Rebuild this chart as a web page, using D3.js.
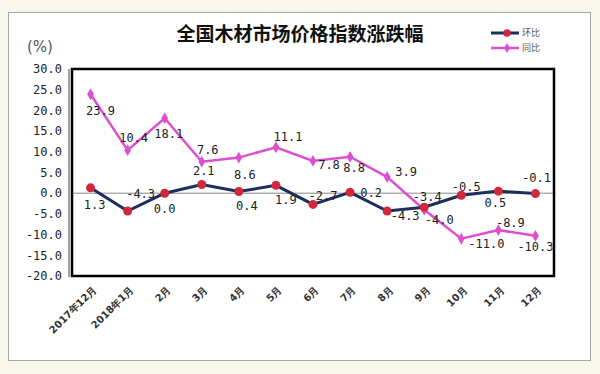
<!DOCTYPE html>
<html>
<head>
<meta charset="utf-8">
<script src="https://cdn.jsdelivr.net/npm/d3@7"></script>
<style>
  html, body { margin: 0; padding: 0; background: #f7f7ec; }
  svg { display: block; }
</style>
</head>
<body>
<div id="chart"></div>
<script>
// data
const months = ["2017年12月", "2018年1月", "2月", "3月", "4月", "5月", "6月", "7月", "8月", "9月", "10月", "11月", "12月"];
const huanbi = [1.3, -4.3, 0.0, 2.1, 0.4, 1.9, -2.7, 0.2, -4.3, -3.4, -0.5, 0.5, -0.1];   // 环比
const tongbi = [23.9, 10.4, 18.1, 7.6, 8.6, 11.1, 7.8, 8.8, 3.9, -4.0, -11.0, -8.9, -10.3]; // 同比
const yTicks = [30, 25, 20, 15, 10, 5, 0, -5, -10, -15, -20];

// label nudges (dx, dy from the point), set by hand like in the original
const huanbiLab = [[4,17],[13,-17],[0,16],[2,-14],[8,14],[10,14],[10,-9],[21,0],[18,5],[3,-10],[5,-8],[-3,12],[1,-16]];
const tongbiLab = [[10,17],[6,-12],[4,16],[6,-12],[6,17],[12,-10],[16,4],[4,11],[19,-5],[15,10],[25,5],[12,-7],[0,11]];

const W = 600, H = 374;
const plot = {left: 72, right: 554, top: 69, bottom: 276};

const svg = d3.select("#chart").append("svg")
    .attr("width", W)
    .attr("height", H);

// white panel
svg.append("rect")
    .attr("x", 8.5).attr("y", 12.5)
    .attr("width", 582).attr("height", 348)
    .attr("fill", "#fff")
    .attr("stroke", "#a8a8a8");

const x = d3.scalePoint()
    .domain(months)
    .range([plot.left, plot.right])
    .padding(0.5);

const y = d3.scaleLinear()
    .domain([-20, 30])
    .range([plot.bottom, plot.top]);

// title
svg.append("text")
    .attr("x", 300).attr("y", 41)
    .attr("text-anchor", "middle")
    .style("font-family", "'Noto Sans CJK SC', sans-serif")
    .style("font-size", "19px")
    .style("font-weight", "bold")
    .attr("fill", "#111")
    .text("全国木材市场价格指数涨跌幅");

svg.append("text")
    .attr("x", 27).attr("y", 52)
    .style("font-family", "'DejaVu Sans', sans-serif")
    .style("font-size", "15px")
    .attr("fill", "#555")
    .text("(%)");

// y axis labels
svg.append("g")
    .selectAll("text")
    .data(yTicks)
    .enter().append("text")
        .attr("x", 62)
        .attr("y", d => y(d))
        .attr("dy", "0.35em")
        .attr("text-anchor", "end")
        .style("font-family", "'DejaVu Sans Mono', monospace")
        .style("font-size", "12px")
        .attr("fill", "#222")
        .text(d => d.toFixed(1));

// zero line
svg.append("line")
    .attr("x1", plot.left).attr("x2", plot.right)
    .attr("y1", y(0)).attr("y2", y(0))
    .attr("stroke", "#888")
    .attr("stroke-width", 1);

// plot frame
svg.append("rect")
    .attr("x", plot.left).attr("y", plot.top)
    .attr("width", plot.right - plot.left)
    .attr("height", plot.bottom - plot.top)
    .attr("fill", "none")
    .attr("stroke", "#000")
    .attr("stroke-width", 2.5);
svg.append("line")
    .attr("x1", plot.left - 3).attr("x2", plot.left - 3)
    .attr("y1", plot.top).attr("y2", plot.bottom + 1)
    .attr("stroke", "#444")
    .attr("stroke-width", 1);

// x labels
svg.append("g")
    .selectAll("text")
    .data(months)
    .enter().append("text")
        .attr("transform", d => `translate(${x(d) + 4},${plot.bottom + 12}) rotate(-45)`)
        .attr("text-anchor", "end")
        .attr("dy", "0.35em")
        .style("font-family", "'DejaVu Sans', sans-serif")
        .style("font-size", "10px")
        .style("font-weight", "bold")
        .attr("fill", "#333")
        .text(d => d);

const line = d3.line()
    .x((d, i) => x(months[i]))
    .y(d => y(d));

// 同比 series
svg.append("path")
    .datum(tongbi)
    .attr("d", line)
    .attr("fill", "none")
    .attr("stroke", "#dc4fcf")
    .attr("stroke-width", 2.5);
svg.append("g")
    .selectAll("path")
    .data(tongbi)
    .enter().append("path")
        .attr("d", d3.symbol(d3.symbolDiamond, 40))
        .attr("transform", (d, i) => `translate(${x(months[i])},${y(d)})`)
        .attr("fill", "#dc4fcf");

// 环比 series
svg.append("path")
    .datum(huanbi)
    .attr("d", line)
    .attr("fill", "none")
    .attr("stroke", "#1b2e5c")
    .attr("stroke-width", 3);
svg.append("g")
    .selectAll("circle")
    .data(huanbi)
    .enter().append("circle")
        .attr("cx", (d, i) => x(months[i]))
        .attr("cy", d => y(d))
        .attr("r", 4.5)
        .attr("fill", "#d2283c");

// data labels
function labels(values, offs) {
    svg.append("g")
        .selectAll("text")
        .data(values)
        .enter().append("text")
            .attr("x", (d, i) => x(months[i]) + offs[i][0])
            .attr("y", (d, i) => y(d) + offs[i][1])
            .attr("dy", "0.35em")
            .attr("text-anchor", "middle")
            .style("font-family", "'DejaVu Sans Mono', monospace")
            .style("font-size", "12px")
            .attr("fill", "#222")
            .text(d => d.toFixed(1));
}
labels(huanbi, huanbiLab);
labels(tongbi, tongbiLab);

// legend
const legend = [{key: "环比", color: "#1b2e5c", mark: "#d2283c", w: 3}, {key: "同比", color: "#dc4fcf", mark: "#dc4fcf", w: 2.5}];
const lg = svg.selectAll(".legend")
    .data(legend)
    .enter().append("g")
    .attr("class", "legend")
    .attr("transform", (d, i) => `translate(491,${33 + i * 15})`);
lg.append("line")
    .attr("x1", 0).attr("x2", 28)
    .attr("stroke", d => d.color)
    .attr("stroke-width", d => d.w);
lg.append("path")
    .attr("d", (d, i) => d3.symbol(i === 0 ? d3.symbolCircle : d3.symbolDiamond, i === 0 ? 45 : 30)())
    .attr("transform", "translate(16,0)")
    .attr("fill", d => d.mark);
lg.append("text")
    .attr("x", 31)
    .attr("dy", "0.35em")
    .style("font-family", "'Noto Sans CJK SC', sans-serif")
    .style("font-size", "9px")
    .attr("fill", "#555")
    .text(d => d.key);
</script>
</body>
</html>
